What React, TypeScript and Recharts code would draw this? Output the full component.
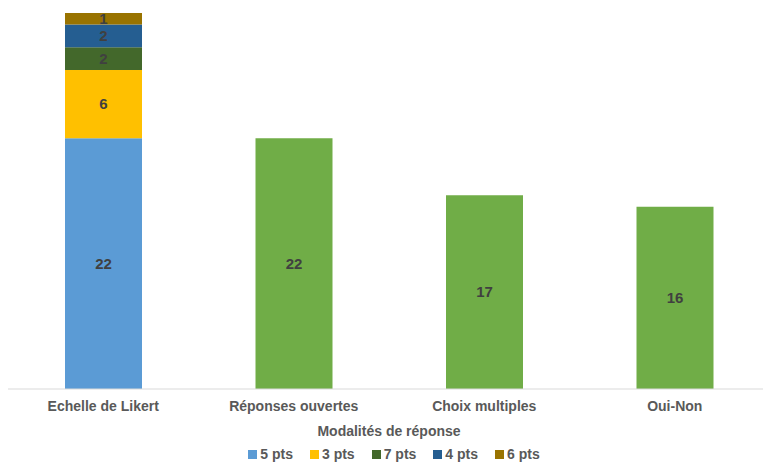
import { Bar, BarChart, Cell, LabelList, Legend, XAxis, YAxis } from "recharts";

const categories = ["Echelle de Likert", "Réponses ouvertes", "Choix multiples", "Oui-Non"];
const pts5 = [22, 22, 17, 16];
const pts3 = [6, null, null, null];
const pts7 = [2, null, null, null];
const pts4 = [2, null, null, null];
const pts6 = [1, null, null, null];

const series = [
  { key: "p5", name: "5 pts", color: "#5B9BD5" },
  { key: "p3", name: "3 pts", color: "#FFC000" },
  { key: "p7", name: "7 pts", color: "#43682B" },
  { key: "p4", name: "4 pts", color: "#255E91" },
  { key: "p6", name: "6 pts", color: "#997300" },
];
// Excel "vary colors" on the first series: only Likert keeps the blue
const p5Colors = ["#5B9BD5", "#70AD47", "#70AD47", "#70AD47"];

const data = categories.map((c, i) => ({
  name: c,
  p5: pts5[i],
  p3: pts3[i],
  p7: pts7[i],
  p4: pts4[i],
  p6: pts6[i],
}));

const FONT = "'Liberation Sans Narrow', 'Arial Narrow', 'Liberation Sans', sans-serif";

const renderLegend = () => (
  <div style={{ display: "flex", justifyContent: "center", gap: 17, paddingLeft: 25, fontSize: 14, fontWeight: 700, color: "#595959", lineHeight: "18px" }}>
    {series.map((s) => (
      <span key={s.key} style={{ display: "flex", alignItems: "center", gap: 3 }}>
        <span style={{ width: 9, height: 9, background: s.color, display: "inline-block" }} />
        {s.name}
      </span>
    ))}
  </div>
);

export default function App() {
  return (
    <div style={{ position: "absolute", left: 0, top: 0, width: 763, height: 463, overflow: "hidden", background: "#fff" }}>
      <BarChart
        width={770}
        height={463}
        data={data}
        margin={{ top: 13, right: 0, left: 8, bottom: 0 }}
        barSize={77}
        style={{ fontFamily: FONT, fontWeight: 700 }}
      >
        <XAxis
          dataKey="name"
          tickLine={false}
          axisLine={{ stroke: "#D9D9D9" }}
          tick={{ fill: "#595959", fontSize: 14, fontWeight: 700 }}
          tickMargin={6}
          height={56}
          label={{ value: "Modalités de réponse", position: "insideBottom", offset: 9, fill: "#595959", fontSize: 14, fontWeight: 700 }}
        />
        <YAxis hide domain={[0, 33]} />
        <Legend verticalAlign="bottom" content={renderLegend} wrapperStyle={{ left: 0, width: 763 }} />
        {series.map((s) => (
          <Bar key={s.key} dataKey={s.key} name={s.name} stackId="a" fill={s.color} isAnimationActive={false}>
            {s.key === "p5" && data.map((_, i) => <Cell key={`c-${i}`} fill={p5Colors[i]} />)}
            <LabelList dataKey={s.key} position="center" fill="#404040" fontSize={15} fontWeight={700} />
          </Bar>
        ))}
      </BarChart>
    </div>
  );
}
